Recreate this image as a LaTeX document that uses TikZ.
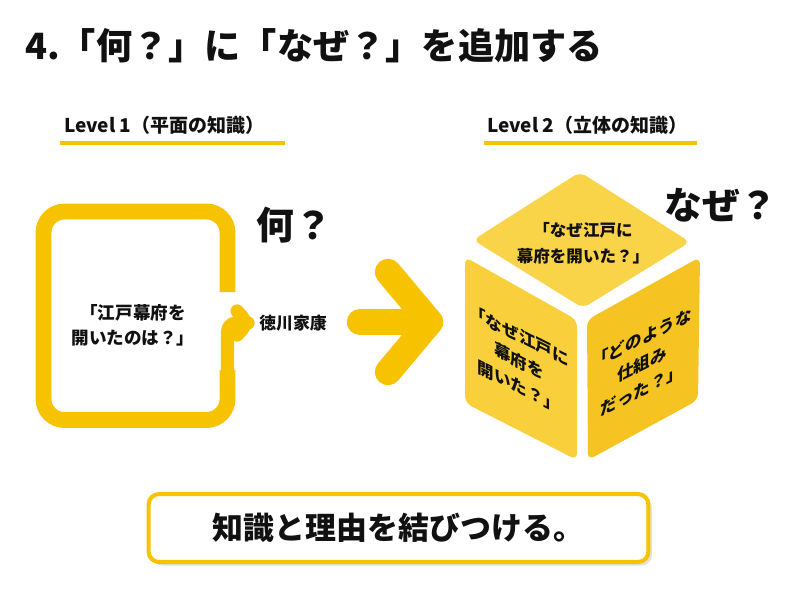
\documentclass[tikz,border=0pt]{standalone}
\usepackage{fontspec}
\setmainfont{Noto Sans CJK JP}
\usetikzlibrary{positioning,calc,shadows}

\definecolor{gold}{RGB}{247,194,0}
\definecolor{facetop}{RGB}{250,212,72}
\definecolor{faceleft}{RGB}{250,207,60}
\definecolor{faceright}{RGB}{245,196,34}
\definecolor{ink}{RGB}{17,17,17}

\newcommand{\fsize}[2]{\fontsize{#1pt}{#2pt}\selectfont}

\tikzset{
  frame/.style   ={draw=gold, line width=9pt, rounded corners=12pt},
  hook/.style    ={draw=gold, line width=7.5pt, rounded corners=5pt, line cap=round, line join=round},
  bigarrow/.style={draw=gold, line width=15pt, line cap=round, line join=round},
  uline/.style   ={draw=gold, line width=2.2pt},
  face/.style    ={rounded corners=4pt},
  lvl/.style     ={font=\fsize{10.8}{13}\bfseries, text=ink, anchor=west},
  qtext/.style   ={font=\fsize{10}{14.2}\bfseries, text=ink, align=center},
  cubetxt/.style ={font=\fsize{9.4}{14.6}\bfseries, text=ink, align=center},
  bigq/.style    ={font=\fsize{21.5}{24}\bfseries, text=ink},
}

\begin{document}
\begin{tikzpicture}[x=0.02cm, y=-0.02cm]
  \useasboundingbox[fill=white] (0,0) rectangle (800,600);

  % ---------- Title ----------
  \node[font=\fsize{20.6}{24}\bfseries, text=ink, anchor=west] (title) at (19,46)
    {4.「何？」に「なぜ？」を追加する};

  % ---------- Level headings ----------
  \node[lvl] (lv1) at (58,125) {Level 1（平面の知識）};
  \draw[uline] (60,143) -- (285,143);
  \node[lvl] (lv2) at (481,125) {Level 2（立体の知識）};
  \draw[uline] (484,143) -- (697,143);

  % ---------- Left: flat knowledge ----------
  \draw[frame] (227.5,292) -- (227.5,211.5) -- (43.5,211.5) -- (43.5,420)
    -- (227.5,420) -- (227.5,370);
  \node[qtext] (q1) at (133,325) {「江戸幕府を\\開いたのは？」};
  \node[font=\fsize{9.6}{12}\bfseries, text=ink] (ans) at (293,323) {徳川家康};
  \node[bigq] (what) at (294,225) {何？};

  % hook from the frame into the answer
  \coordinate (hk) at (227.5,376);
  \coordinate (tip) at ($(ans.west)+(-5,0)$);
  \draw[hook] (hk) |- (tip);
  \draw[hook] ($(tip)+(-11,-12)$) -- (tip) -- ($(tip)+(-11,12)$);

  % big arrow to the right
  \coordinate (ba) at (360,322);
  \coordinate (bb) at (430,322);
  \draw[bigarrow] (ba) -- (bb);
  \draw[bigarrow] ($(bb)+(-42,-50)$) -- (bb) -- ($(bb)+(-42,50)$);

  % ---------- Right: the cube ----------
  \begin{scope}
    \fill[facetop, face]   (580,172) -- (690,242) -- (583,308) -- (473,240) -- cycle;
    \fill[faceleft, face]  (465,257) -- (577,320) -- (577,460) -- (465,403) -- cycle;
    \fill[faceright, face] (587,320) -- (700,257) -- (698,400) -- (588,460) -- cycle;

    \node[cubetxt] (topq) at (583,243) {「なぜ江戸に\\幕府を開いた？」};
    \node[cubetxt, yslant=-0.5] (leftq) at (519,361)
      {「なぜ江戸に\\幕府を\\開いた？」};
    \node[cubetxt, yslant=0.5] (rightq) at (642,364)
      {「どのような\\仕組み\\だった？」};
  \end{scope}
  \node[bigq] (why) at (721,205) {なぜ？};

  % ---------- Bottom message ----------
  \node[draw=gold, line width=2.3pt, rounded corners=6pt, fill=white,
        minimum width=10cm, minimum height=1.36cm,
        drop shadow={shadow xshift=2pt, shadow yshift=-2pt, fill=black!22},
        font=\fsize{17.6}{20}\bfseries, text=ink] (msg) at (398.5,528)
    {知識と理由を結びつける。};
\end{tikzpicture}
\end{document}
